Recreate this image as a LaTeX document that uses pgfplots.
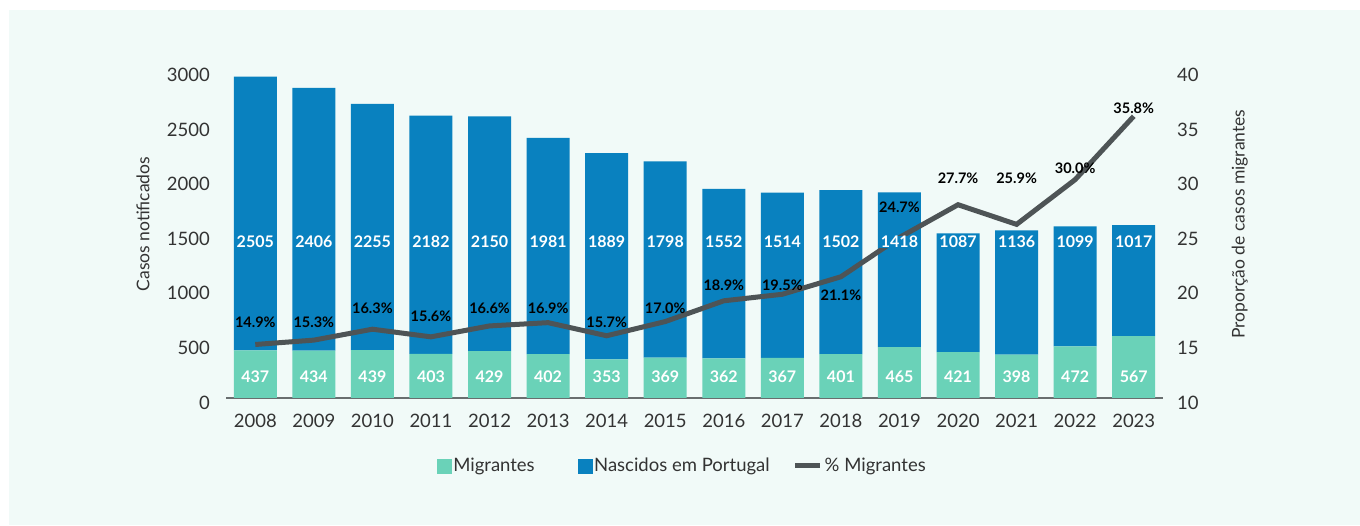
\documentclass[border=0pt]{standalone}
\usepackage{fontspec}
\setmainfont{Lato}
\usepackage{pgfplots}
\pgfplotsset{compat=1.18}
\usepackage{pgfplotstable}
\definecolor{bg}{HTML}{F1FAF8}
\definecolor{mig}{HTML}{6AD2B8}
\definecolor{nas}{HTML}{0981BF}
\definecolor{ln}{HTML}{4E5456}
\definecolor{tx}{HTML}{333333}

\pgfplotstableread{
x mig nas pct ly
0 437 2505 14.9 16.96
1 434 2406 15.3 16.96
2 439 2255 16.3 18.24
3 403 2182 15.6 17.51
4 429 2150 16.6 18.24
5 402 1981 16.9 18.24
6 353 1889 15.7 16.96
7 369 1798 17.0 18.24
8 362 1552 18.9 20.35
9 367 1514 19.5 20.35
10 401 1502 21.1 19.43
11 465 1418 24.7 27.43
12 421 1087 27.7 30.08
13 398 1136 25.9 30.08
14 472 1099 30.0 31.06
15 567 1017 35.8 36.56
}\data

\begin{document}
\begin{tikzpicture}
\fill[white] (0pt,0pt) rectangle (1360pt,525pt);
\fill[bg] (9pt,0pt) rectangle (1360pt,515pt);
\begin{axis}[
  at={(226pt,127pt)}, anchor=south west,
  scale only axis, width=937pt, height=327.6pt,
  xmin=-0.5, xmax=15.5, ymin=0, ymax=3000,
  ybar stacked, bar width=43pt,
  axis x line*=bottom, axis y line*=left,
  y axis line style={draw=none},
  x axis line style={draw=ln!85, line width=1.2pt},
  major tick length=0pt,
  xtick={0,...,15},
  xticklabels={2008,2009,2010,2011,2012,2013,2014,2015,2016,2017,2018,2019,2020,2021,2022,2023},
  ytick={0,500,...,3000},
  /pgf/number format/assume math mode=true,
  /pgf/number format/1000 sep={},
  tick label style={font=\fontsize{18.5}{18.5}\selectfont, text=tx, inner sep=0pt},
  yticklabel style={anchor=east, xshift=-16pt, yshift=-4.5pt},
  xticklabel style={anchor=north, yshift=-16pt},
  ylabel={Casos notificados},
  ylabel style={at={(axis description cs:-0.0886,0.531)}, anchor=center, font=\fontsize{17.5}{17.5}\selectfont, text=tx},
]
\addplot[fill=mig, draw=none] table[x=x, y=mig] {\data};
\addplot[fill=nas, draw=none] table[x=x, y=nas] {\data};
\end{axis}
\begin{axis}[
  at={(226pt,127pt)}, anchor=south west,
  scale only axis, width=937pt, height=327.6pt,
  xmin=-0.5, xmax=15.5, ymin=10, ymax=40,
  axis x line=none, axis y line*=right,
  y axis line style={draw=none},
  major tick length=0pt,
  ytick={10,15,...,40},
  /pgf/number format/assume math mode=true,
  /pgf/number format/1000 sep={},
  tick label style={font=\fontsize{18.5}{18.5}\selectfont, text=tx, inner sep=0pt},
  yticklabel style={anchor=west, xshift=14pt, yshift=-4.5pt},
  ylabel={Proporção de casos migrantes},
  ylabel style={at={(axis description cs:1.082,0.531)}, anchor=center, font=\fontsize{17.5}{17.5}\selectfont, text=tx},
  clip=false,
  legend style={at={(axis description cs:0.4870,-0.207)}, anchor=center, draw=none, fill=none,
    font=\fontsize{18.5}{18.5}\selectfont, text=tx, inner sep=0pt,
    nodes={inner sep=2pt},
    /tikz/every even column/.append style={column sep=21pt}},
  legend columns=3,
]
\addlegendimage{legend image code/.code={\fill[mig] (0pt,-7pt) rectangle (14pt,7pt);}}
\addlegendentry{Migrantes\hspace*{20pt}}
\addlegendimage{legend image code/.code={\fill[nas] (0pt,-7pt) rectangle (14pt,7pt);}}
\addlegendentry{Nascidos em Portugal}
\addplot[ln, line width=5pt, mark=none,
  legend image code/.code={\draw[ln, line width=5pt, line cap=round] (2.5pt,0pt) -- (19.5pt,0pt); \path (0pt,0pt) -- (25pt,0pt);}]
  table[x=x, y=pct] {\data};
\addlegendentry{\% Migrantes}
\addplot[draw=none, mark=none, forget plot, point meta=explicit,
  nodes near coords,
  nodes near coords style={anchor=center, font=\bfseries\fontsize{16}{16}\selectfont, text=white, fill=nas, inner sep=0.5pt}]
  table[x=x, y expr=24.29, meta=nas] {\data};
\addplot[draw=none, mark=none, forget plot, point meta=explicit,
  nodes near coords,
  nodes near coords style={anchor=center, font=\bfseries\fontsize{16}{16}\selectfont, text=white}]
  table[x=x, y expr=11.95, meta=mig] {\data};
\addplot[draw=none, mark=none, forget plot, point meta=explicit,
  nodes near coords={\pgfmathprintnumber[fixed,fixed zerofill,precision=1]{\pgfplotspointmeta}\%},
  nodes near coords style={anchor=center, font=\bfseries\fontsize{14.5}{14.5}\selectfont, text=black}]
  table[x=x, y=ly, meta=pct] {\data};
\end{axis}
\end{tikzpicture}
\end{document}
